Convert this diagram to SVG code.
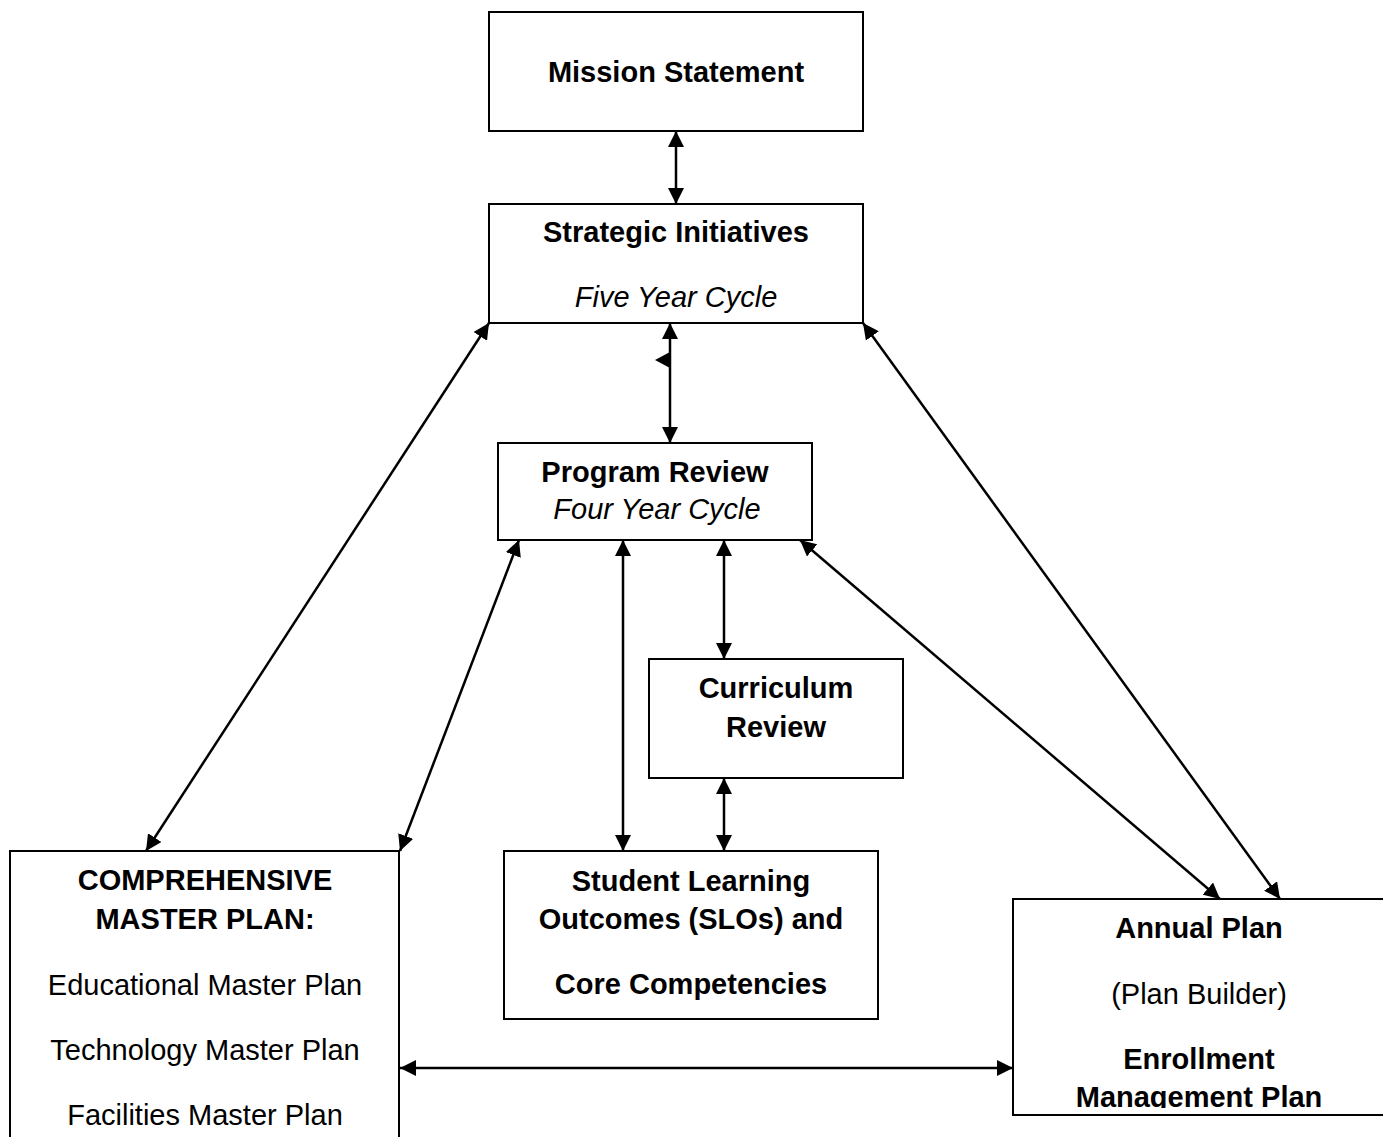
<svg xmlns="http://www.w3.org/2000/svg" width="1383" height="1137" viewBox="0 0 1383 1137">
<style>
.box{fill:#fff;stroke:#000;stroke-width:2}
text{font-family:"Liberation Sans",Arial,sans-serif;font-size:29px;fill:#000;text-anchor:middle}
.b{font-weight:bold}
.i{font-style:italic}
.c{stroke:#000;stroke-width:2.5;fill:none;marker-start:url(#ah);marker-end:url(#ah)}
</style>
<defs>
<marker id="ah" viewBox="0 0 16 16" refX="16" refY="8" markerWidth="16" markerHeight="16" markerUnits="userSpaceOnUse" orient="auto-start-reverse">
<path d="M0,0 L16,8 L0,16 z" fill="#000"/>
</marker>
<clipPath id="clipAnnual"><rect x="1013" y="899" width="380" height="209"/></clipPath>
</defs>
<rect width="1383" height="1137" fill="#fff"/>
<g id="mission">
<rect class="box" x="489" y="12" width="374" height="119"/>
<text class="b" x="676" y="82">Mission Statement</text>
</g>
<g id="strategic">
<rect class="box" x="489" y="204" width="374" height="119"/>
<text class="b" x="676" y="242">Strategic Initiatives</text>
<text class="i" x="676" y="307">Five Year Cycle</text>
</g>
<g id="program">
<rect class="box" x="498" y="443" width="314" height="97"/>
<text class="b" x="655" y="482">Program Review</text>
<text class="i" x="657" y="519">Four Year Cycle</text>
</g>
<g id="curriculum">
<rect class="box" x="649" y="659" width="254" height="119"/>
<text class="b" x="776" y="698">Curriculum</text>
<text class="b" x="776" y="737">Review</text>
</g>
<g id="slo">
<rect class="box" x="504" y="851" width="374" height="168"/>
<text class="b" x="691" y="891">Student Learning</text>
<text class="b" x="691" y="929">Outcomes (SLOs) and</text>
<text class="b" x="691" y="994">Core Competencies</text>
</g>
<g id="comprehensive">
<rect class="box" x="10" y="851" width="389" height="300"/>
<text class="b" x="205" y="890">COMPREHENSIVE</text>
<text class="b" x="205" y="929">MASTER PLAN:</text>
<text x="205" y="995">Educational Master Plan</text>
<text x="205" y="1060">Technology Master Plan</text>
<text x="205" y="1125">Facilities Master Plan</text>
</g>
<g id="annual">
<rect class="box" x="1013" y="899" width="380" height="216"/>
<g clip-path="url(#clipAnnual)">
<text class="b" x="1199" y="938">Annual Plan</text>
<text x="1199" y="1004">(Plan Builder)</text>
<text class="b" x="1199" y="1069">Enrollment</text>
<text class="b" x="1199" y="1107">Management Plan</text>
</g>
</g>
<g id="connectors">
<line class="c" x1="676" y1="131" x2="676" y2="204"/>
<line class="c" x1="670" y1="323" x2="670" y2="443"/>
<path d="M670,352 L670,368 L655,360 z" fill="#000"/>
<line class="c" x1="724" y1="540" x2="724" y2="659"/>
<line class="c" x1="724" y1="778" x2="724" y2="851"/>
<line class="c" x1="623" y1="540" x2="623" y2="851"/>
<line class="c" x1="489" y1="323" x2="146" y2="851"/>
<line class="c" x1="519" y1="540" x2="400" y2="851"/>
<line class="c" x1="863" y1="323" x2="1280" y2="899"/>
<line class="c" x1="800" y1="540" x2="1220" y2="899"/>
<line class="c" x1="400" y1="1068" x2="1013" y2="1068"/>
</g>
</svg>
